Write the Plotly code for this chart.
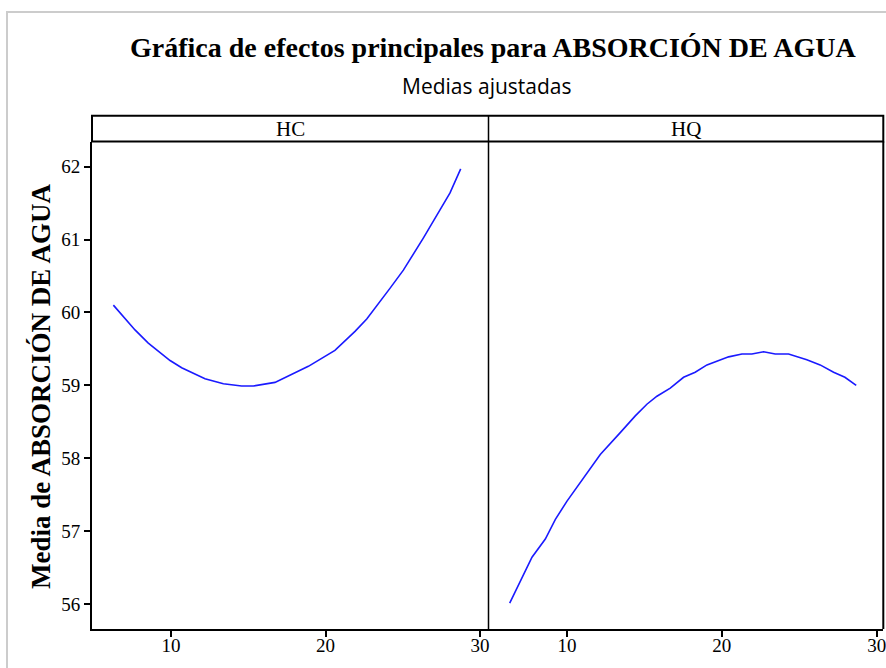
import plotly.graph_objects as go
from plotly.subplots import make_subplots

W, H = 886, 668

# Fitted means of ABSORCIÓN DE AGUA for each factor
hc_x = [6.27, 7.67, 8.53, 9.94, 10.69, 12.2, 13.39, 14.57, 15.33, 16.73, 18.89,
        20.61, 21.91, 22.67, 24.17, 25.04, 26.33, 27.2, 28.06, 28.75]
hc_y = [60.10, 59.76, 59.58, 59.34, 59.24, 59.09, 59.02, 58.99, 58.99, 59.04, 59.26,
        59.48, 59.74, 59.91, 60.33, 60.58, 61.02, 61.34, 61.64, 61.97]

hq_x = [6.30, 6.99, 7.74, 8.60, 9.25, 10.0, 11.29, 12.15, 13.44, 14.41, 15.16, 15.81,
        16.67, 17.53, 18.28, 19.04, 20.44, 21.30, 21.94, 22.70, 23.45, 24.31, 25.49,
        26.35, 27.22, 27.95, 28.68]
hq_y = [56.01, 56.32, 56.64, 56.89, 57.16, 57.41, 57.80, 58.05, 58.35, 58.58, 58.74, 58.85,
        58.96, 59.11, 59.18, 59.28, 59.39, 59.43, 59.43, 59.46, 59.43, 59.43, 59.35,
        59.28, 59.18, 59.11, 59.00]

panels = ["HC", "HQ"]
x_ticks = [10, 20, 30]
y_ticks = [56, 57, 58, 59, 60, 61, 62]

title = "Gráfica de efectos principales para ABSORCIÓN DE AGUA"
subtitle = "Medias ajustadas"
y_title = "Media de ABSORCIÓN DE AGUA"


def px(x):
    return x / W


def py(y):
    return 1 - y / H


# panel geometry (pixels)
left0, mid, right1 = 92, 488.5, 883.3
top_plot, bottom_plot = 141.5, 629
strip_top = 115.7

serif = "Liberation Serif, Times New Roman, serif"
line_blue = "#1a1aff"

fig = make_subplots(rows=1, cols=2, shared_yaxes=True, horizontal_spacing=0)

fig.add_trace(go.Scatter(x=hc_x, y=hc_y, mode="lines",
                         line=dict(color=line_blue, width=1.6),
                         showlegend=False), row=1, col=1)
fig.add_trace(go.Scatter(x=hq_x, y=hq_y, mode="lines",
                         line=dict(color=line_blue, width=1.6),
                         showlegend=False), row=1, col=2)

tickfont = dict(family=serif, size=19, color="black")
x_common = dict(tickvals=x_ticks, ticks="outside", ticklen=6, tickwidth=1.5,
                tickcolor="black", showgrid=False, zeroline=False,
                showline=True, linecolor="black", linewidth=2,
                tickfont=tickfont, automargin=False, ticklabelstandoff=-8,
                ticklabeloverflow="allow")
y_dom = [py(bottom_plot), py(top_plot)]
y_range = [55.655, 62.346]

fig.update_layout(
    width=W, height=H,
    margin=dict(l=0, r=0, t=0, b=0, autoexpand=False),
    paper_bgcolor="white", plot_bgcolor="white",
    xaxis=dict(domain=[px(left0), px(mid)], range=[4.887, 30.55], **x_common),
    xaxis2=dict(domain=[px(mid), px(right1)], range=[4.93, 30.43], **x_common),
    yaxis=dict(domain=y_dom, range=y_range,
               tickvals=y_ticks, ticks="outside", ticklen=6, tickwidth=1.5,
               tickcolor="black", showgrid=False, zeroline=False,
               showline=True, linecolor="black", linewidth=2,
               tickfont=tickfont, automargin=False, ticklabeloverflow="allow"),
    yaxis2=dict(domain=y_dom, range=y_range, matches="y",
                showticklabels=False, ticks="", showgrid=False,
                zeroline=False, showline=False, automargin=False),
)

shapes = []
# outer light-gray frame
shapes.append(dict(type="path", xref="paper", yref="paper",
                   path=f"M {px(7)} {py(H)} L {px(7)} {py(12)} L {px(W)} {py(12)}",
                   line=dict(color="#cccccc", width=2)))
# strip box
shapes.append(dict(type="rect", xref="paper", yref="paper",
                   x0=px(left0), x1=px(right1), y0=py(top_plot), y1=py(strip_top),
                   line=dict(color="black", width=2), fillcolor="white"))
# divider between panels
shapes.append(dict(type="line", xref="paper", yref="paper",
                   x0=px(mid), x1=px(mid), y0=py(bottom_plot), y1=py(strip_top),
                   line=dict(color="black", width=1.5)))
# right border of right panel
shapes.append(dict(type="line", xref="paper", yref="paper",
                   x0=px(right1), x1=px(right1), y0=py(bottom_plot), y1=py(top_plot),
                   line=dict(color="black", width=2)))

annotations = [
    dict(text=f"<b>{title}</b>", x=px(493), y=py(47), xref="paper", yref="paper",
         showarrow=False, xanchor="center", yanchor="middle",
         font=dict(family=serif, size=28, color="black")),
    dict(text=subtitle, x=px(487), y=py(86), xref="paper", yref="paper",
         showarrow=False, xanchor="center", yanchor="middle",
         font=dict(family="Open Sans, Noto Sans, sans-serif", size=21, color="black")),
    dict(text=f"<b>{y_title}</b>", x=px(41), y=py(386), xref="paper", yref="paper",
         showarrow=False, textangle=-90, xanchor="center", yanchor="middle",
         font=dict(family=serif, size=27, color="black")),
]
for name, (a, b) in zip(panels, [(left0, mid), (mid, right1)]):
    annotations.append(dict(text=name, x=px((a + b) / 2), y=py((strip_top + top_plot) / 2),
                            xref="paper", yref="paper", showarrow=False,
                            xanchor="center", yanchor="middle",
                            font=dict(family=serif, size=21, color="black")))

fig.update_layout(shapes=shapes, annotations=annotations)

fig.write_html("out.html")
